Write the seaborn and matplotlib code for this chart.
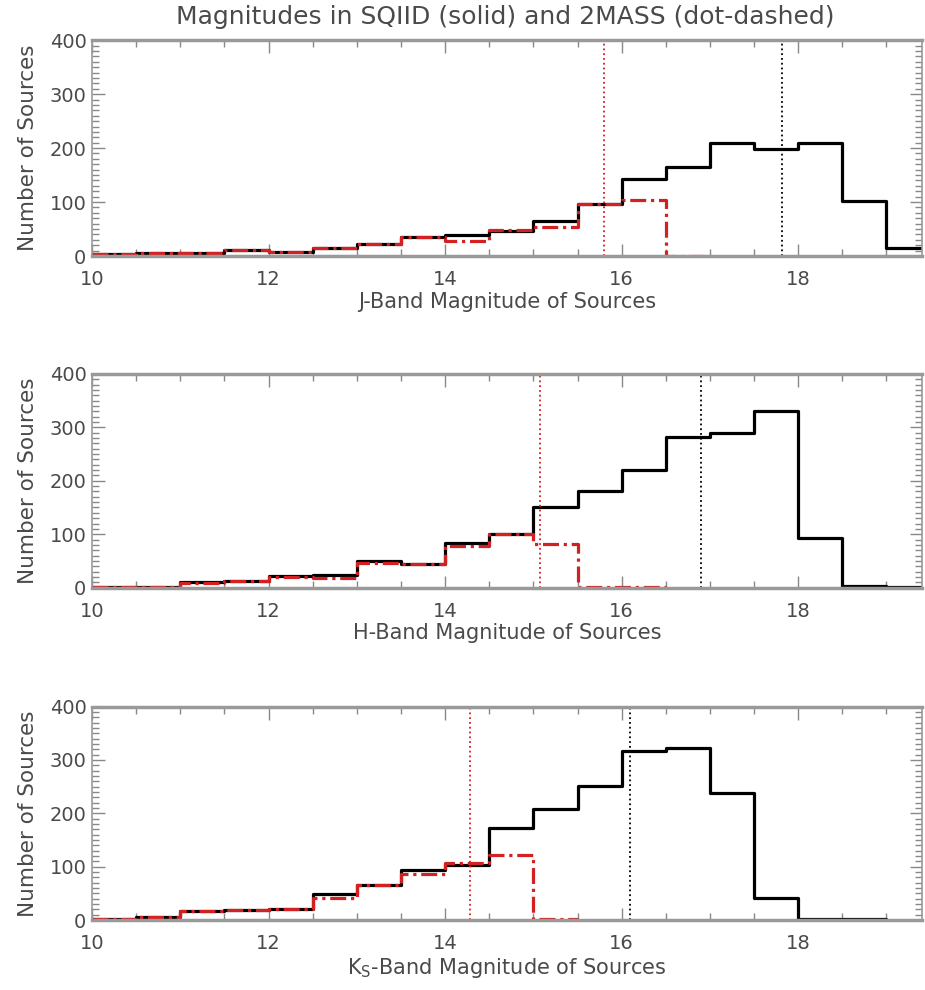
import seaborn as sns
import matplotlib.pyplot as plt
from matplotlib.ticker import MultipleLocator

# histogram bins (left edges, width 0.5 mag)
bins_left = [10.0, 10.5, 11.0, 11.5, 12.0, 12.5, 13.0, 13.5, 14.0, 14.5,
             15.0, 15.5, 16.0, 16.5, 17.0, 17.5, 18.0, 18.5, 19.0]
bin_width = 0.5

# counts
j_sqiid = [4, 6, 5, 11, 8, 14, 22, 35, 39, 47, 64, 96, 143, 165, 210, 198, 209, 102, 14]
j_2mass = [4, 6, 5, 11, 8, 14, 22, 36, 28, 49, 54, 96, 104, 0]
h_sqiid = [2, 2, 11, 13, 22, 24, 50, 45, 83, 101, 150, 181, 220, 282, 290, 331, 92, 4, 1]
h_2mass = [2, 2, 9, 12, 20, 19, 47, 44, 77, 100, 81, 1, 1]
k_sqiid = [2, 5, 16, 19, 20, 49, 66, 94, 103, 172, 208, 251, 316, 323, 238, 41, 1, 1]
k_2mass = [2, 5, 16, 19, 20, 41, 66, 87, 107, 122, 1]

# completeness limits (red = 2MASS, black = SQIID)
limits_2mass = [15.80, 15.07, 14.28]
limits_sqiid = [17.82, 16.90, 16.10]

band_labels = ["J-Band Magnitude of Sources",
               "H-Band Magnitude of Sources",
               r"K$_\mathrm{S}$-Band Magnitude of Sources"]

sns.set_theme(style="ticks")
plt.rcParams['font.family'] = ['DejaVu Sans']
plt.rcParams['text.color'] = '#4a4a4a'
plt.rcParams['axes.labelcolor'] = '#4a4a4a'
plt.rcParams['xtick.color'] = '#888888'
plt.rcParams['ytick.color'] = '#888888'
plt.rcParams['xtick.labelcolor'] = '#4a4a4a'
plt.rcParams['ytick.labelcolor'] = '#4a4a4a'

fig = plt.figure(figsize=(9.25, 9.9), dpi=100)
rects = [[0.0995, 0.7414, 0.897, 0.218],
         [0.0995, 0.4064, 0.897, 0.216],
         [0.0995, 0.0707, 0.897, 0.2155]]

series = [(j_sqiid, j_2mass), (h_sqiid, h_2mass), (k_sqiid, k_2mass)]

for i, (sq, tm) in enumerate(series):
    ax = fig.add_axes(rects[i])
    for counts, col, ls in [(sq, 'black', '-'), (tm, '#d42020', (0, (5, 1.5, 1, 1.5)))]:
        centers = [b + bin_width / 2 for b in bins_left[:len(counts)]]
        edges = bins_left[:len(counts)] + [bins_left[len(counts) - 1] + bin_width]
        sns.histplot(x=centers, weights=counts, bins=edges, element="step",
                     fill=False, color=col, linewidth=2.3, linestyle=ls, ax=ax)
    ax.axvline(limits_2mass[i], color='#d42020', ls=':', lw=1.3)
    ax.axvline(limits_sqiid[i], color='black', ls=':', lw=1.3)

    ax.set_xlim(10, 19.4)
    ax.set_ylim(0, 400)
    ax.set_xticks([10, 12, 14, 16, 18])
    ax.set_yticks([0, 100, 200, 300, 400])
    ax.xaxis.set_minor_locator(MultipleLocator(0.5))
    ax.yaxis.set_minor_locator(MultipleLocator(10))
    ax.tick_params(which='both', direction='in', top=True, right=True,
                   labelsize=14)
    ax.tick_params(axis='x', pad=10)
    ax.tick_params(axis='y', pad=4)
    ax.tick_params(which='major', length=9, width=1)
    ax.tick_params(which='minor', length=5, width=1)
    for side, sp in ax.spines.items():
        sp.set_color('#999999')
        sp.set_linewidth(2.5 if side in ('top', 'bottom') else 1.2)
    ax.set_xlabel(band_labels[i], fontsize=15, labelpad=2)
    ax.set_ylabel("Number of Sources", fontsize=15.5, labelpad=8)

fig.text(0.546, 0.983, "Magnitudes in SQIID (solid) and 2MASS (dot-dashed)",
         ha='center', va='center', fontsize=18)

plt.savefig("out.png", dpi=100)
